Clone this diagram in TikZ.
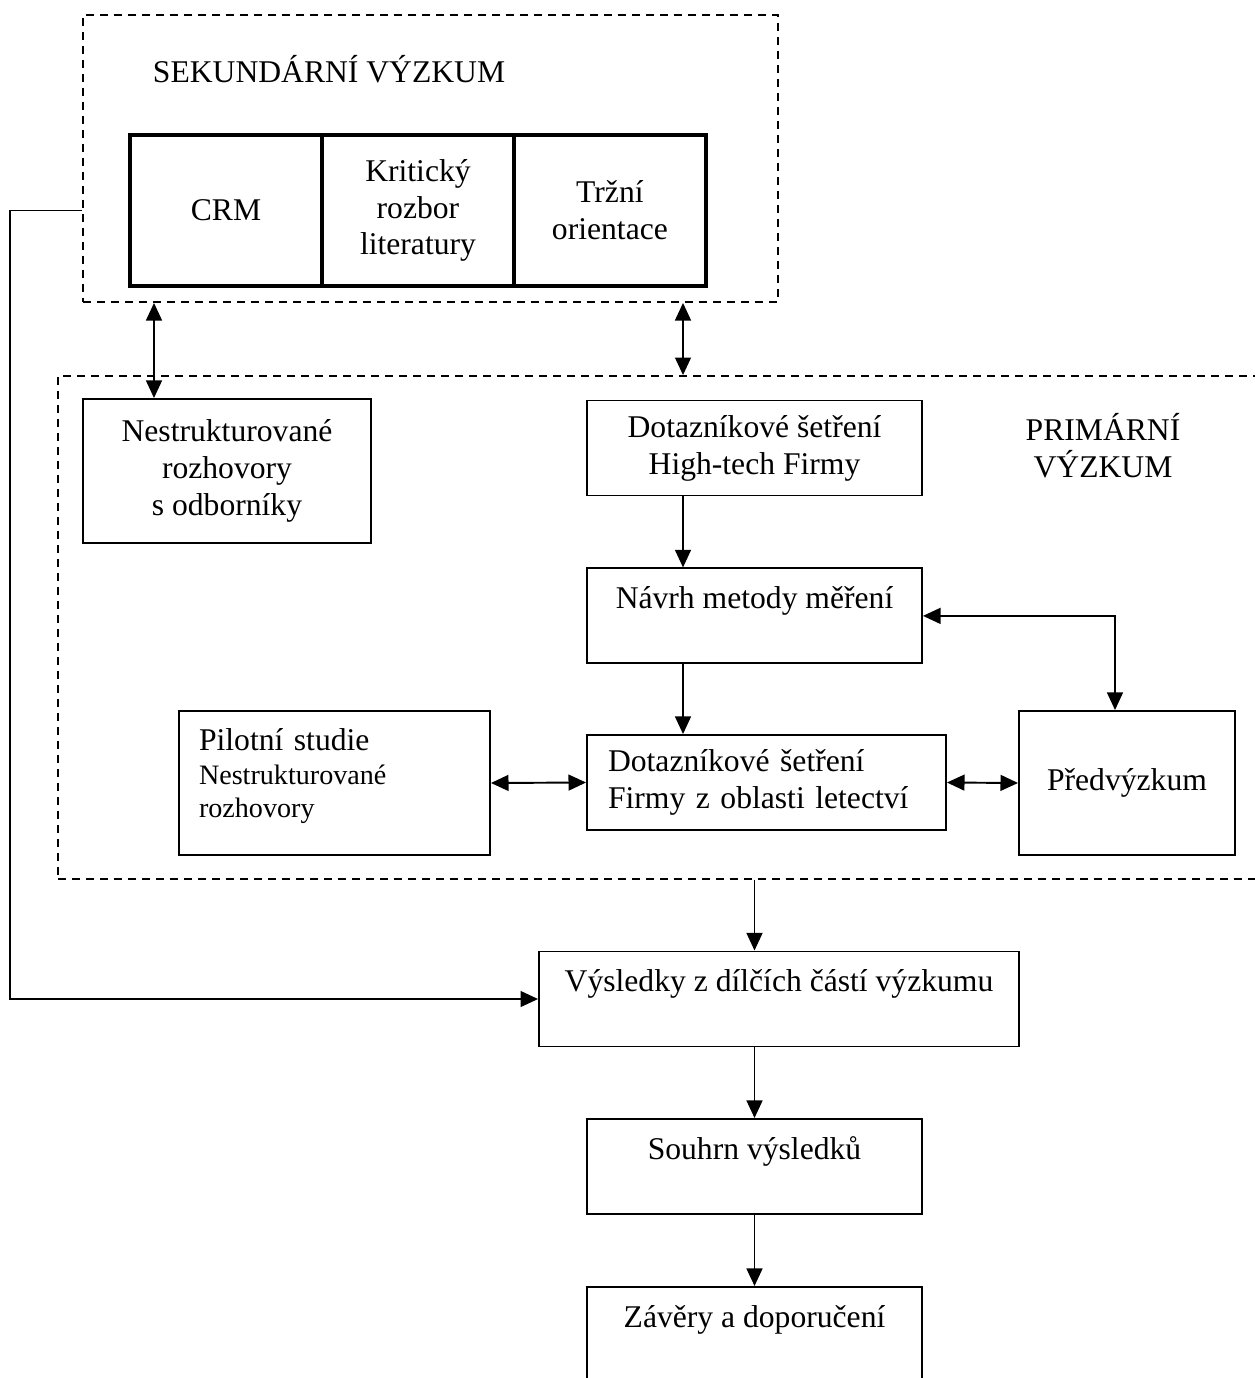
\documentclass[tikz,border=0pt]{standalone}
\usepackage{fontspec}
\setmainfont{Liberation Serif}
\usetikzlibrary{arrows.meta,positioning}

\begin{document}
\begin{tikzpicture}[x=0.02cm,y=-0.02cm,>={Triangle[length=10pt,width=9pt]},
  line width=1.1pt,font=\fontsize{18}{21}\selectfont,
  zone node/.style={rectangle,draw,dash pattern=on 0.16cm off 0.12cm,inner sep=0pt},
  lit node/.style={rectangle,draw,line width=2.4pt,outer sep=0pt,minimum width=3.84cm,
    minimum height=3.02cm,align=center,inner sep=0pt},
  box node/.style={rectangle,draw,minimum width=6.7cm,minimum height=1.9cm,align=center,inner sep=0pt},
  tall node/.style={box node,minimum height=2.88cm}]

  \useasboundingbox (0,0) rectangle (1254,1378);

  % sekundarni vyzkum
  \node[zone node,minimum width=13.9cm,minimum height=5.74cm] (sek) at (430.5,158.5) {};
  \node[anchor=west,inner sep=0pt] (sektxt) at (152,69) {SEKUNDÁRNÍ VÝZKUM};
  \node[lit node] (crm) at (226,210.5) {CRM};
  \node[lit node,right=0pt of crm] (krit) {Kritický\\rozbor\\literatury};
  \node[lit node,right=0pt of krit] (trh) {Tržní\\orientace};

  % primarni vyzkum
  \node[zone node,minimum width=24.64cm,minimum height=10.06cm] (prim) at (674,627.5) {};
  \node[align=center] (primtxt) at (1103,446) {PRIMÁRNÍ\\VÝZKUM};
  \node[tall node,minimum width=5.76cm] (nestr) at (227,471) {Nestrukturované\\rozhovory\\s odborníky};
  \node[box node] (htech) at (754.5,448) {Dotazníkové šetření\\High-tech Firmy};
  \node[box node,below=1.42cm of htech] (navrh) {Návrh metody měření\\~};
  \node[box node,minimum width=7.18cm,text width=6.34cm,align=left] (letec) at (766.5,782.5)
    {Dotazníkové šetření\\Firmy z oblasti letectví};
  \node[tall node,minimum width=6.22cm,text width=5.42cm,align=left] (pilot) at (334.5,783)
    {Pilotní studie\\\fontsize{16}{19}\selectfont Nestrukturované\\rozhovory\\[-10pt]~};
  \node[tall node,minimum width=4.32cm] (pred) at (1127,783) {Předvýzkum};

  % vysledky
  \node[box node,minimum width=9.6cm] (vysl) at (779,999) {Výsledky z dílčích částí výzkumu\\~};
  \node[box node] (souhrn) at (754.5,1166.5) {Souhrn výsledků\\~};
  \node[box node] (zavery) at (754.5,1334.5) {Závěry a doporučení\\~};

  \coordinate (c1) at (154,0);
  \coordinate (c2) at (683,0);

  \draw[<->] (sek.south -| c1) -- (nestr.north -| c1);
  \draw[<->] (sek.south -| c2) -- (prim.north -| c2);
  \draw[->] (htech.south -| c2) -- (navrh.north -| c2);
  \draw[->] (navrh.south -| c2) -- (letec.north -| c2);
  \draw[<->] (navrh.east) -| ([xshift=-0.24cm]pred.north);
  \draw[<->] (pilot.east) -- (letec.west);
  \draw[<->] (letec.east) -- (pred.west);
  \draw[->] (prim.south -| souhrn) -- (vysl.north -| souhrn);
  \draw[->] (sek.west |- crm) -- ++(-72,0) |- (vysl.west);
  \draw[->] (vysl.south -| souhrn) -- (souhrn.north);
  \draw[->] (souhrn) -- (zavery);
\end{tikzpicture}
\end{document}
